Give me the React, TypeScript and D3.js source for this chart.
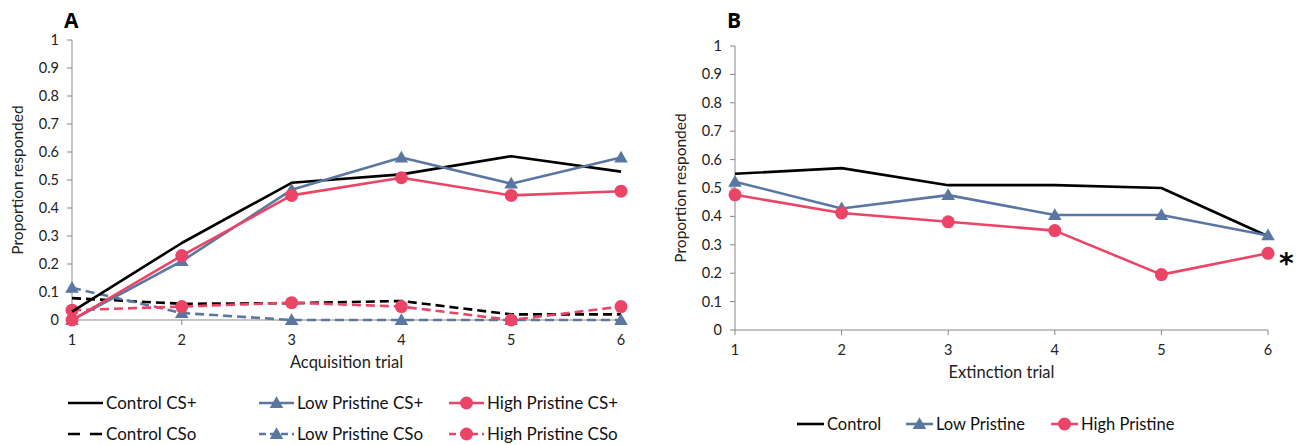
import React from "react";
import * as d3 from "d3";

const trials = [1, 2, 3, 4, 5, 6];
const yTicks = [0, 0.1, 0.2, 0.3, 0.4, 0.5, 0.6, 0.7, 0.8, 0.9, 1];

const controlCSplus = [0.03, 0.275, 0.49, 0.52, 0.585, 0.53];
const lowCSplus = [0, 0.21, 0.465, 0.58, 0.487, 0.58];
const highCSplus = [0, 0.23, 0.445, 0.508, 0.445, 0.46];
const controlCSo = [0.078, 0.058, 0.06, 0.068, 0.02, 0.02];
const lowCSo = [0.115, 0.025, 0, 0, 0, 0];
const highCSo = [0.035, 0.048, 0.062, 0.048, 0, 0.048];

const extControl = [0.55, 0.57, 0.51, 0.51, 0.5, 0.33];
const extLow = [0.522, 0.428, 0.475, 0.405, 0.405, 0.333];
const extHigh = [0.476, 0.412, 0.381, 0.35, 0.195, 0.27];

const BLUE = "#5a77a1";
const RED = "#ec4466";
const BLACK = "#000";
const FONT = "Lato, 'Open Sans', sans-serif";

type Series = { name: string; values: number[]; color: string; marker: "none" | "tri" | "circle"; dashed: boolean };

const seriesA: Series[] = [
  { name: "Control CSo", values: controlCSo, color: BLACK, marker: "none", dashed: true },
  { name: "Low Pristine CSo", values: lowCSo, color: BLUE, marker: "tri", dashed: true },
  { name: "High Pristine CSo", values: highCSo, color: RED, marker: "circle", dashed: true },
  { name: "Control CS+", values: controlCSplus, color: BLACK, marker: "none", dashed: false },
  { name: "Low Pristine CS+", values: lowCSplus, color: BLUE, marker: "tri", dashed: false },
  { name: "High Pristine CS+", values: highCSplus, color: RED, marker: "circle", dashed: false },
];

const seriesB: Series[] = [
  { name: "Control", values: extControl, color: BLACK, marker: "none", dashed: false },
  { name: "Low Pristine", values: extLow, color: BLUE, marker: "tri", dashed: false },
  { name: "High Pristine", values: extHigh, color: RED, marker: "circle", dashed: false },
];

function Marker({ type, x, y, color }: { type: string; x: number; y: number; color: string }) {
  if (type === "tri") {
    const p = d3.symbol().type(d3.symbolTriangle).size(80)();
    return <path d={p || ""} transform={`translate(${x},${y + 1})`} fill={color} />;
  }
  if (type === "circle") return <circle cx={x} cy={y} r={6.5} fill={color} />;
  return null;
}

function Panel({
  series, x0, x1, y0, y1, xLabel, letter,
}: { series: Series[]; x0: number; x1: number; y0: number; y1: number; xLabel: string; letter: string }) {
  const x = d3.scaleLinear().domain([1, 6]).range([x0, x1]);
  const y = d3.scaleLinear().domain([0, 1]).range([y0, y1]);
  const line = d3.line<number>().x((_, i) => x(trials[i])).y((d) => y(d));
  return (
    <g fontFamily={FONT}>
      <text x={x0 - 8} y={28} fontSize={21} fontWeight="bold" fontFamily="'Open Sans', sans-serif">{letter}</text>
      {yTicks.map((t) => (
        <g key={t}>
          <line x1={x0 - 5} x2={x0} y1={y(t)} y2={y(t)} stroke="#888" />
          <text x={x0 - 13} y={y(t) + 5} fontSize={14.5} textAnchor="end" fill="#222">{d3.format("")(t)}</text>
        </g>
      ))}
      {trials.map((t) => (
        <g key={t}>
          <line x1={x(t)} x2={x(t)} y1={y0} y2={y0 + 5} stroke="#888" />
          <text x={x(t)} y={y0 + 25} fontSize={14.5} textAnchor="middle" fill="#222">{t}</text>
        </g>
      ))}
      <line x1={x0} x2={x0} y1={y1} y2={y0} stroke="#888" />
      <line x1={x0} x2={x1} y1={y0} y2={y0} stroke="#888" />
      <text x={(x0 + x1) / 2} y={y0 + 48} fontSize={16.5} textAnchor="middle" fill="#222">{xLabel}</text>
      <text transform={`translate(${x0 - 49},${(y0 + y1) / 2}) rotate(-90)`} fontSize={15.5} textAnchor="middle" fill="#222">Proportion responded</text>
      {series.map((s) => (
        <g key={s.name}>
          <path d={line(s.values) || ""} fill="none" stroke={s.color} strokeWidth={2.6}
            strokeDasharray={s.dashed ? "9,5" : undefined} strokeLinejoin="round" />
          {s.values.map((v, i) => (
            <Marker key={i} type={s.marker} x={x(trials[i])} y={y(v)} color={s.color} />
          ))}
        </g>
      ))}
    </g>
  );
}

function LegendItem({ s, x, y, w, fs }: { s: Series; x: number; y: number; w: number; fs: number }) {
  return (
    <g fontFamily={FONT}>
      <line x1={x} x2={x + w} y1={y} y2={y} stroke={s.color} strokeWidth={2.6} strokeDasharray={s.dashed ? (s.marker === "none" ? "12,10" : "7,4") : undefined} />
      <Marker type={s.marker} x={x + w / 2} y={y} color={s.color} />
      <text x={x + w + 3} y={y + 6} fontSize={fs} fill="#111">{s.name}</text>
    </g>
  );
}

export default function App() {
  const legA = [
    { s: seriesA[3], x: 68, y: 403 },
    { s: seriesA[4], x: 259, y: 403 },
    { s: seriesA[5], x: 449, y: 403 },
    { s: seriesA[0], x: 68, y: 434 },
    { s: seriesA[1], x: 259, y: 434 },
    { s: seriesA[2], x: 449, y: 434 },
  ];
  const legB = [
    { s: seriesB[0], x: 797, y: 424 },
    { s: seriesB[1], x: 906, y: 424 },
    { s: seriesB[2], x: 1051, y: 424 },
  ];
  return (
    <svg width={1304} height={445} style={{ display: "block", position: "absolute", left: 0, top: 0 }}>
      <rect width={1304} height={445} fill="#fff" />
      <Panel series={seriesA} x0={72} x1={621} y0={320} y1={40} xLabel="Acquisition trial" letter="A" />
      <Panel series={seriesB} x0={735} x1={1268} y0={330} y1={46} xLabel="Extinction trial" letter="B" />
      <text x={1279} y={273} fontSize={28} fontWeight="bold" fontFamily="'DejaVu Sans', sans-serif">*</text>
      {legA.map((l) => <LegendItem key={l.s.name} s={l.s} x={l.x} y={l.y} w={35} fs={17} />)}
      {legB.map((l) => <LegendItem key={l.s.name} s={l.s} x={l.x} y={l.y} w={27} fs={16.5} />)}
    </svg>
  );
}
